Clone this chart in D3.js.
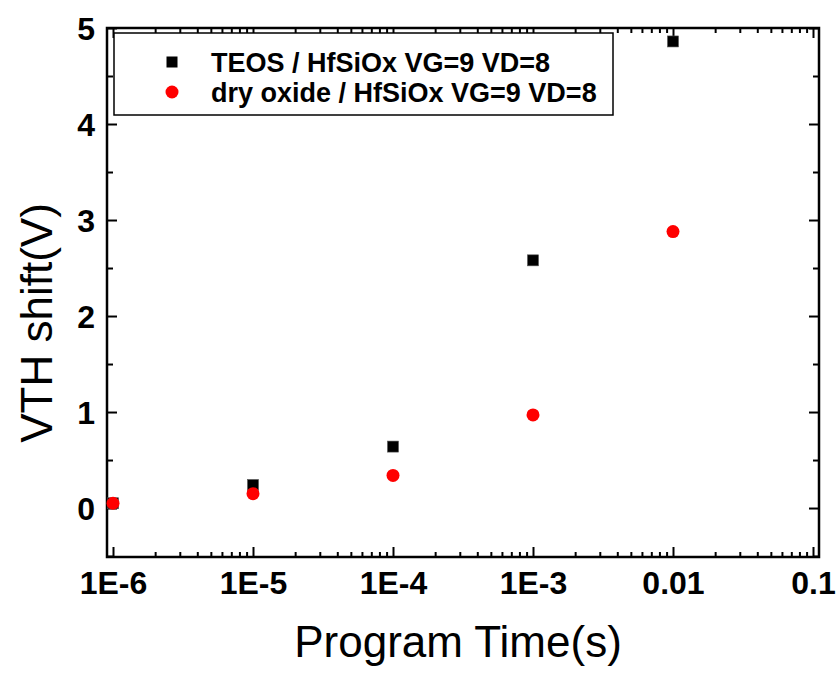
<!DOCTYPE html>
<html><head><meta charset="utf-8">
<script src="https://cdn.jsdelivr.net/npm/d3@7"></script>
<style>body{margin:0;background:#fff}</style>
</head><body>
<svg id="c" width="840" height="677"></svg>
<script>
const times = [1e-6, 1e-5, 1e-4, 1e-3, 1e-2];
const teos = [0.05, 0.24, 0.64, 2.58, 4.86];
const dryOxide = [0.05, 0.15, 0.34, 0.97, 2.88];
const seriesNames = ["TEOS / HfSiOx VG=9 VD=8", "dry oxide / HfSiOx VG=9 VD=8"];
const xTickValues = [1e-6, 1e-5, 1e-4, 1e-3, 1e-2, 1e-1];
const xTickLabels = ["1E-6", "1E-5", "1E-4", "1E-3", "0.01", "0.1"];
const yTickValues = [0, 1, 2, 3, 4, 5];

const L = 107, R = 819, T = 28, B = 557;
const svg = d3.select("#c");
const x = d3.scaleLog().domain([Math.pow(10, -6 - 6/140), Math.pow(10, -1 + 6/140)]).range([L, R]);
const y = d3.scaleLinear().domain([-0.51, 5]).range([B, T]);

// minor tick values
const xMinor = [];
for (let e = -7; e <= -1; e++) for (let m = 2; m <= 9; m++) {
  const v = m * Math.pow(10, e);
  if (v >= x.domain()[0] && v <= x.domain()[1]) xMinor.push(v);
}
const yMinor = d3.range(-0.5, 5.01, 1).filter(v => v >= y.domain()[0]);

// bottom axis (ticks inward)
const gB = svg.append("g").attr("transform", `translate(0,${B})`);
gB.call(d3.axisBottom(x).tickValues(xTickValues).tickSize(-10).tickFormat((d, i) => xTickLabels[i]).tickPadding(14));
gB.append("g").call(d3.axisBottom(x).tickValues(xMinor).tickSize(-5).tickFormat(""));
gB.selectAll(".domain").remove();
gB.selectAll("line").attr("stroke", "#000").attr("stroke-width", 2);
gB.selectAll("text").attr("font-family", "Liberation Sans, Arial, sans-serif").attr("font-weight", "bold").attr("font-size", 32).attr("fill", "#000");

// top axis
const gT = svg.append("g").attr("transform", `translate(0,${T})`);
gT.call(d3.axisTop(x).tickValues(xTickValues).tickSize(-10).tickFormat(""));
gT.append("g").call(d3.axisTop(x).tickValues(xMinor).tickSize(-5).tickFormat(""));
gT.selectAll(".domain").remove();
gT.selectAll("line").attr("stroke", "#000").attr("stroke-width", 2);

// left axis
const gL = svg.append("g").attr("transform", `translate(${L},0)`);
gL.call(d3.axisLeft(y).tickValues(yTickValues).tickSize(-10).tickFormat(d3.format("d")).tickPadding(12));
gL.append("g").call(d3.axisLeft(y).tickValues(yMinor).tickSize(-6).tickFormat(""));
gL.selectAll(".domain").remove();
gL.selectAll("line").attr("stroke", "#000").attr("stroke-width", 2);
gL.selectAll("text").attr("font-family", "Liberation Sans, Arial, sans-serif").attr("font-weight", "bold").attr("font-size", 32).attr("fill", "#000").attr("dy", "0.36em");

// right axis
const gR = svg.append("g").attr("transform", `translate(${R},0)`);
gR.call(d3.axisRight(y).tickValues(yTickValues).tickSize(-10).tickFormat(""));
gR.append("g").call(d3.axisRight(y).tickValues(yMinor).tickSize(-6).tickFormat(""));
gR.selectAll(".domain").remove();
gR.selectAll("line").attr("stroke", "#000").attr("stroke-width", 2);

// frame
svg.append("rect").attr("x", L).attr("y", T).attr("width", R - L).attr("height", B - T)
  .attr("fill", "none").attr("stroke", "#000").attr("stroke-width", 2.5);

// data
const sq = 11;
svg.append("g").selectAll("rect").data(times.map((t, i) => [t, teos[i]])).join("rect")
  .attr("x", d => x(d[0]) - sq/2).attr("y", d => y(d[1]) - sq/2)
  .attr("width", sq).attr("height", sq).attr("fill", "#000").attr("stroke", "#555").attr("stroke-width", 0.6);
svg.append("g").selectAll("circle").data(times.map((t, i) => [t, dryOxide[i]])).join("circle")
  .attr("cx", d => x(d[0])).attr("cy", d => y(d[1])).attr("r", 6.5).attr("fill", "#ff0000");

// legend
const lg = svg.append("g");
lg.append("rect").attr("x", 114).attr("y", 33).attr("width", 499).attr("height", 82)
  .attr("fill", "#fff").attr("stroke", "#000").attr("stroke-width", 1.5);
lg.append("rect").attr("x", 172 - sq/2).attr("y", 62 - sq/2).attr("width", sq).attr("height", sq).attr("fill", "#000");
lg.append("circle").attr("cx", 172).attr("cy", 92).attr("r", 6.5).attr("fill", "#ff0000");
lg.selectAll("text").data(seriesNames).join("text")
  .attr("x", 211).attr("y", (d, i) => 62 + i * 30).attr("dy", "0.36em")
  .attr("font-family", "Liberation Sans, Arial, sans-serif").attr("font-weight", "bold").attr("font-size", 27)
  .text(d => d);

// titles
svg.append("text").attr("x", 458).attr("y", 657).attr("text-anchor", "middle")
  .attr("font-family", "Liberation Sans, Arial, sans-serif").attr("font-size", 44).text("Program Time(s)");
svg.append("text").attr("transform", "translate(52,323) rotate(-90)").attr("text-anchor", "middle")
  .attr("font-family", "Liberation Sans, Arial, sans-serif").attr("font-size", 44).text("VTH shift(V)");
</script>
</body></html>
